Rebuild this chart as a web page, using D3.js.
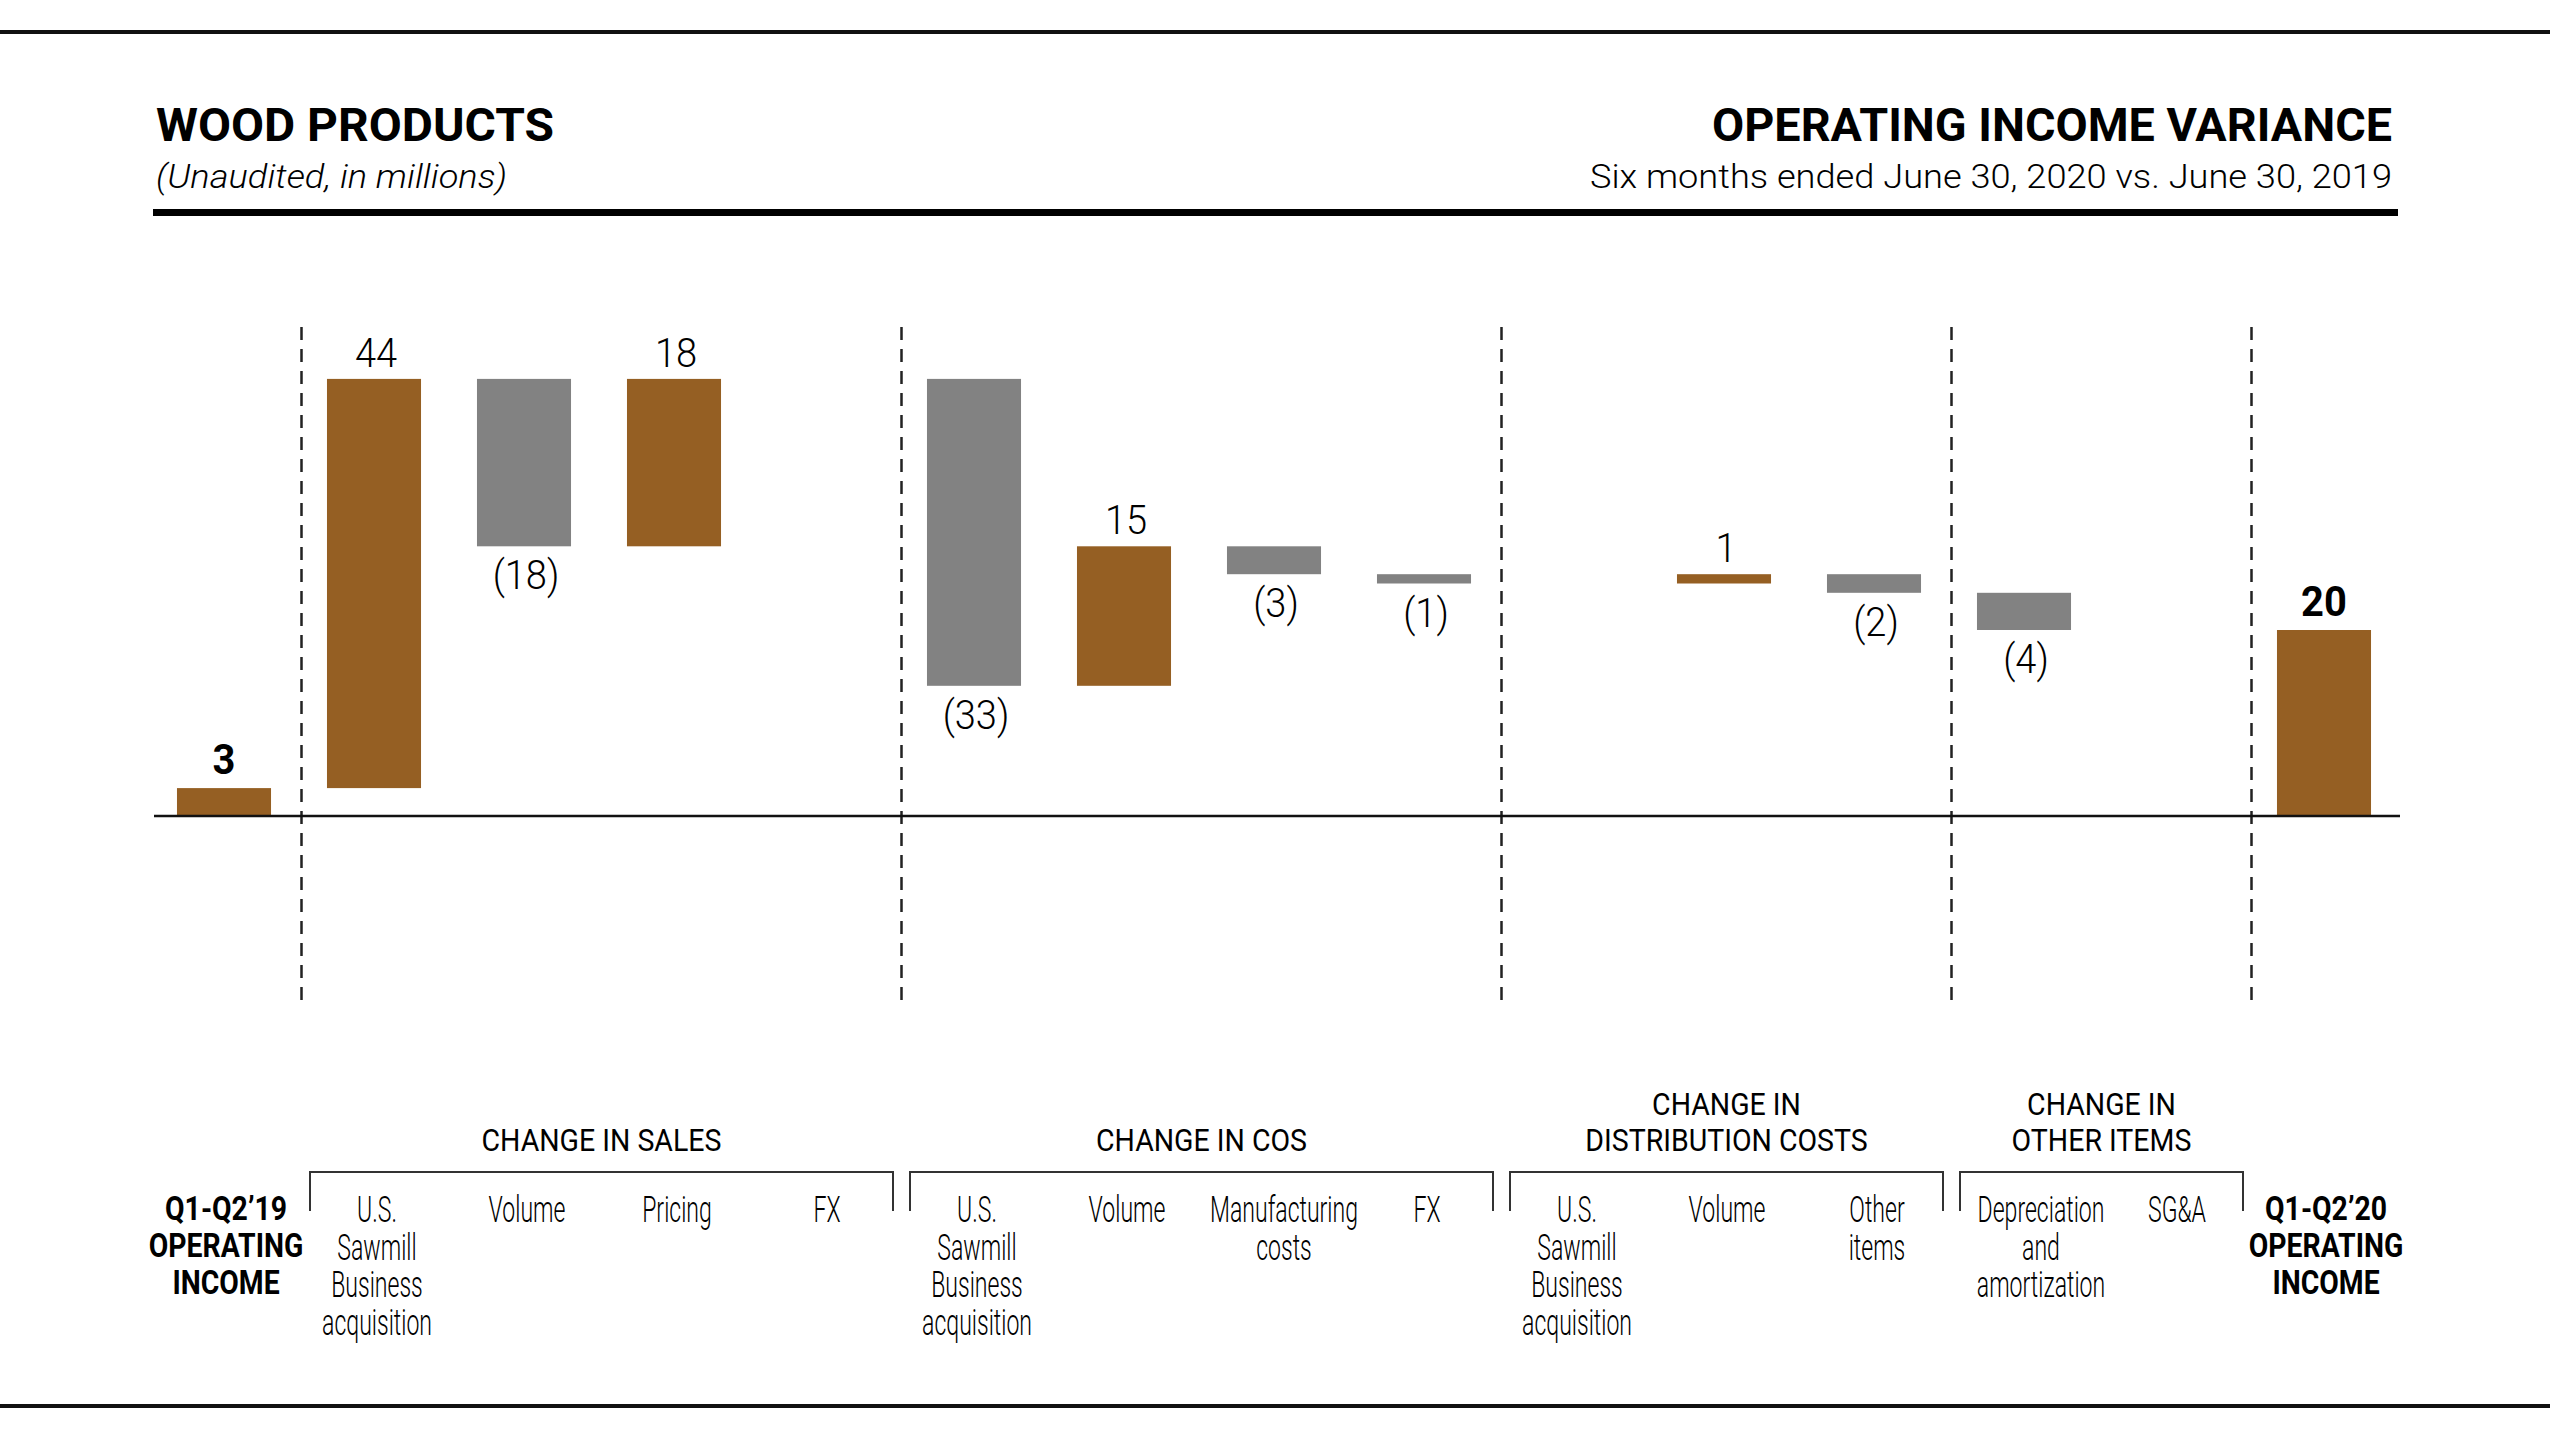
<!DOCTYPE html>
<html><head><meta charset="utf-8">
<script src="https://cdn.jsdelivr.net/npm/d3@7"></script>
<style>
html,body{margin:0;padding:0;background:#fff;}
svg{display:block;}
</style></head><body>
<svg id="chart" width="2550" height="1434"></svg>
<script>
// ---------------- DATA ----------------
const categories = [
  "Q1-Q2’19 OPERATING INCOME",
  "Sales: U.S. Sawmill Business acquisition",
  "Sales: Volume",
  "Sales: Pricing",
  "Sales: FX",
  "COS: U.S. Sawmill Business acquisition",
  "COS: Volume",
  "COS: Manufacturing costs",
  "COS: FX",
  "Distribution: U.S. Sawmill Business acquisition",
  "Distribution: Volume",
  "Distribution: Other items",
  "Other: Depreciation and amortization",
  "Other: SG&A",
  "Q1-Q2’20 OPERATING INCOME"
];
const categoryLabels = [
  ["Q1-Q2’19","OPERATING","INCOME"],
  ["U.S.","Sawmill","Business","acquisition"],
  ["Volume"],
  ["Pricing"],
  ["FX"],
  ["U.S.","Sawmill","Business","acquisition"],
  ["Volume"],
  ["Manufacturing","costs"],
  ["FX"],
  ["U.S.","Sawmill","Business","acquisition"],
  ["Volume"],
  ["Other","items"],
  ["Depreciation","and","amortization"],
  ["SG&A"],
  ["Q1-Q2’20","OPERATING","INCOME"]
];
const values = [3, 44, -18, 18, 0, -33, 15, -3, -1, 0, 1, -2, -4, 0, 20];
const kinds  = ["total","delta","delta","delta","delta","delta","delta","delta","delta","delta","delta","delta","delta","delta","total"];
const groupNames = [["CHANGE IN SALES"],["CHANGE IN COS"],["CHANGE IN","DISTRIBUTION COSTS"],["CHANGE IN","OTHER ITEMS"]];
const groupStart = [1, 5, 9, 12];
const groupEnd   = [4, 8, 11, 13];
const titleLeft = "WOOD PRODUCTS";
const subtitleLeft = "(Unaudited, in millions)";
const titleRight = "OPERATING INCOME VARIANCE";
const subtitleRight = "Six months ended June 30, 2020 vs. June 30, 2019";

// ---------------- STYLE ----------------
const BROWN = "#955f23";
const GRAY = "#828282";
const svg = d3.select("#chart");

const x = d3.scaleBand().domain(categories).range([149, 2399]).paddingInner(0.373).paddingOuter(0.1865);
const y = d3.scaleLinear().domain([0, 50]).range([816, 351]);
const gapHalf = (x.step() - x.bandwidth()) / 2;
const leftEdge = i => x(categories[i]) - gapHalf;
const center = i => x(categories[i]) + x.bandwidth() / 2;

// waterfall computation
let run = 0;
const bars = values.map((v, i) => {
  let a, b;
  if (kinds[i] === "total") { a = 0; b = v; run = v; }
  else { a = run; b = run + v; run = b; }
  return {i, v, kind: kinds[i], lo: Math.min(a, b), hi: Math.max(a, b)};
});

// text helper: condensed look via horizontal scale
function label(g, xx, yy, str, o) {
  const t = g.append("text")
    .attr("transform", `translate(${xx},${yy}) scale(${o.sx || 1},1)`)
    .attr("text-anchor", o.anchor || "middle")
    .style("font-family", o.family || "Roboto, 'Open Sans', sans-serif")
    .style("font-size", o.size + "px")
    .style("font-weight", o.weight || 400)
    .style("font-style", o.italic ? "italic" : "normal")
    .attr("fill", o.fill || "#000")
    .text(str);
  if (o.width) t.attr("textLength", o.width / (o.sx || 1)).attr("lengthAdjust", "spacingAndGlyphs");
  return t;
}

// ---------------- FRAME RULES ----------------
svg.append("rect").attr("x", 0).attr("y", 30).attr("width", 2550).attr("height", 4).attr("fill", "#111");
svg.append("rect").attr("x", 0).attr("y", 1404).attr("width", 2550).attr("height", 4).attr("fill", "#111");
svg.append("rect").attr("x", 153).attr("y", 209).attr("width", 2245).attr("height", 7).attr("fill", "#000");

// ---------------- HEADER ----------------
const hdr = svg.append("g");
label(hdr, 156, 141, titleLeft, {anchor: "start", size: 46, weight: 700, width: 398});
label(hdr, 156, 188, subtitleLeft, {anchor: "start", size: 33, weight: 300, italic: true, width: 351});
label(hdr, 2392, 141, titleRight, {anchor: "end", size: 46, weight: 700, width: 680});
label(hdr, 2392, 188, subtitleRight, {anchor: "end", size: 33, weight: 300, width: 802});

// ---------------- DASHED SEPARATORS ----------------
const seps = [1, 5, 9, 12, 14];
svg.append("g").selectAll("line").data(seps).join("line")
  .attr("x1", i => leftEdge(i) + 2.5).attr("x2", i => leftEdge(i) + 2.5)
  .attr("y1", 327).attr("y2", 1000)
  .attr("stroke", "#222").attr("stroke-width", 2.5).attr("stroke-dasharray", "13,9");

// ---------------- BARS ----------------
const shown = bars.filter(d => d.v !== 0);
svg.append("g").selectAll("rect").data(shown).join("rect")
  .attr("x", d => x(categories[d.i]))
  .attr("width", x.bandwidth())
  .attr("y", d => y(d.hi))
  .attr("height", d => y(d.lo) - y(d.hi))
  .attr("fill", d => (d.kind === "total" || d.v > 0) ? BROWN : GRAY);

// baseline axis
svg.append("g").attr("transform", `translate(0,${y(0)})`)
  .call(d3.axisBottom(x).tickValues([]).tickSizeOuter(0))
  .call(g => g.select(".domain").attr("stroke", "#111").attr("stroke-width", 2.5).attr("d", "M154,0H2400"));

// value labels
const vl = svg.append("g");
shown.forEach(d => {
  const cx = center(d.i);
  if (d.kind === "total") {
    label(vl, cx, y(d.hi) - 14, String(d.v), {size: 42, weight: 700, sx: 0.95});
  } else if (d.v > 0) {
    label(vl, cx + 2, y(d.hi) - 12, String(d.v), {size: 40, weight: 300, sx: 0.95});
  } else {
    label(vl, cx + 2, y(d.lo) + 43, "(" + Math.abs(d.v) + ")", {size: 40, weight: 300, sx: 0.95});
  }
});

// ---------------- CATEGORY LABELS ----------------
const nudge = {7: 7, 12: 14};
const cl = svg.append("g");
categoryLabels.forEach((lines, i) => {
  const cx = center(i);
  const bold = kinds[i] === "total";
  lines.forEach((ln, k) => {
    if (bold) label(cl, cx + 2, 1220 + k * 37, ln, {size: 33, weight: 700, sx: 0.86});
    else label(cl, cx + 3 + (nudge[i] || 0), 1222 + k * 37.5, ln, {size: 36, weight: 300, sx: 0.64});
  });
});

// ---------------- GROUP BRACKETS ----------------
const gb = svg.append("g");
groupNames.forEach((names, gi) => {
  const x0 = leftEdge(groupStart[gi]) + 11;
  const x1 = leftEdge(groupEnd[gi] + 1) - 6;
  gb.append("path")
    .attr("d", `M${x0},1211V1172H${x1}V1211`)
    .attr("fill", "none").attr("stroke", "#333").attr("stroke-width", 2);
  const mx = (x0 + x1) / 2;
  names.forEach((nm, k) => {
    label(gb, mx, 1151 - (names.length - 1 - k) * 36, nm, {size: 31, weight: 400, sx: 0.92});
  });
});
</script>
</body></html>
